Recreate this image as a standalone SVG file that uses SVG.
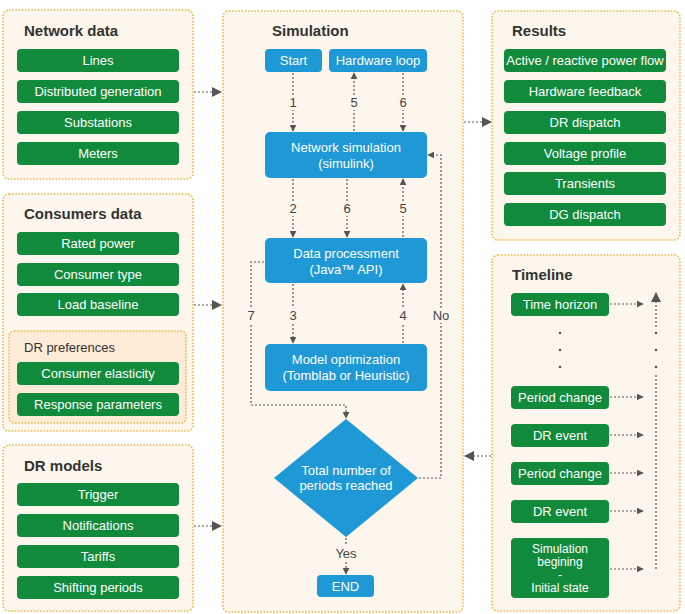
<svg xmlns="http://www.w3.org/2000/svg" width="685" height="614" viewBox="0 0 685 614">
<defs>
<marker id="ah" viewBox="0 0 10 10" refX="9" refY="5" markerWidth="7" markerHeight="7" markerUnits="userSpaceOnUse" orient="auto"><path d="M0,0 L10,5 L0,10 z" fill="#555"/></marker>
<marker id="ahL" viewBox="0 0 10 10" refX="9" refY="5" markerWidth="10" markerHeight="10" markerUnits="userSpaceOnUse" orient="auto"><path d="M0,0 L10,5 L0,10 z" fill="#555"/></marker>
<style>
.panel{fill:#fdf6ec;stroke:#f0b94a;stroke-width:1.6;stroke-dasharray:1.6 1.6}
.inner{fill:#fdebd8;stroke:#f0b94a;stroke-width:1.6;stroke-dasharray:1.6 1.6}
.g{fill:#118a3c}
.b{fill:#1f98d6}
.h{font-family:"Liberation Sans",Arial,sans-serif;font-weight:bold;font-size:15px;fill:#333}
.sh{font-family:"Liberation Sans",Arial,sans-serif;font-size:13px;fill:#333}
.t{font-family:"Liberation Sans",Arial,sans-serif;font-size:13px;fill:#fff;text-anchor:middle}
.ts{font-family:"Liberation Sans",Arial,sans-serif;font-size:12px;fill:#fff;text-anchor:middle}
.c{fill:none;stroke:#5a5a5a;stroke-width:1.2;stroke-dasharray:2 2}
.lbl{font-family:"Liberation Sans",Arial,sans-serif;font-size:13px;fill:#444;text-anchor:middle;paint-order:stroke;stroke:#fdf6ec;stroke-width:6px}
.dot{fill:#555}
</style>
</defs>
<rect width="685" height="614" fill="#ffffff"/>

<g id="network-data">
<rect class="panel" x="3" y="10" width="190" height="169" rx="6"/>
<text class="h" x="24" y="36">Network data</text>
<rect class="g" x="17" y="49" width="162" height="23" rx="4"/><text class="t" x="98" y="65">Lines</text>
<rect class="g" x="17" y="80" width="162" height="23" rx="4"/><text class="t" x="98" y="96">Distributed generation</text>
<rect class="g" x="17" y="111" width="162" height="23" rx="4"/><text class="t" x="98" y="127">Substations</text>
<rect class="g" x="17" y="142" width="162" height="23" rx="4"/><text class="t" x="98" y="158">Meters</text>
</g>

<g id="consumers-data">
<rect class="panel" x="3" y="194" width="190" height="237" rx="6"/>
<text class="h" x="24" y="219">Consumers data</text>
<rect class="g" x="17" y="232" width="162" height="23" rx="4"/><text class="t" x="98" y="248">Rated power</text>
<rect class="g" x="17" y="263" width="162" height="23" rx="4"/><text class="t" x="98" y="279">Consumer type</text>
<rect class="g" x="17" y="293" width="162" height="23" rx="4"/><text class="t" x="98" y="309">Load baseline</text>
<g id="dr-preferences">
<rect class="inner" x="9" y="331" width="177" height="92" rx="5"/>
<text class="sh" x="24" y="352">DR preferences</text>
<rect class="g" x="17" y="362" width="162" height="23" rx="4"/><text class="t" x="98" y="378">Consumer elasticity</text>
<rect class="g" x="17" y="393" width="162" height="23" rx="4"/><text class="t" x="98" y="409">Response parameters</text>
</g>
</g>

<g id="dr-models">
<rect class="panel" x="3" y="445" width="190" height="166" rx="6"/>
<text class="h" x="24" y="471">DR models</text>
<rect class="g" x="17" y="483" width="162" height="23" rx="4"/><text class="t" x="98" y="499">Trigger</text>
<rect class="g" x="17" y="514" width="162" height="23" rx="4"/><text class="t" x="98" y="530">Notifications</text>
<rect class="g" x="17" y="545" width="162" height="23" rx="4"/><text class="t" x="98" y="561">Tariffs</text>
<rect class="g" x="17" y="576" width="162" height="23" rx="4"/><text class="t" x="98" y="592">Shifting periods</text>
</g>

<g id="simulation">
<rect class="panel" x="223" y="11" width="240" height="601" rx="6"/>
<text class="h" x="272" y="36">Simulation</text>
</g>

<g id="results">
<rect class="panel" x="492" y="11" width="188" height="229" rx="6"/>
<text class="h" x="512" y="36">Results</text>
<rect class="g" x="504" y="49" width="162" height="23" rx="4"/><text class="t" x="585" y="65">Active / reactive power flow</text>
<rect class="g" x="504" y="80" width="162" height="23" rx="4"/><text class="t" x="585" y="96">Hardware feedback</text>
<rect class="g" x="504" y="111" width="162" height="23" rx="4"/><text class="t" x="585" y="127">DR dispatch</text>
<rect class="g" x="504" y="142" width="162" height="23" rx="4"/><text class="t" x="585" y="158">Voltage profile</text>
<rect class="g" x="504" y="172" width="162" height="23" rx="4"/><text class="t" x="585" y="188">Transients</text>
<rect class="g" x="504" y="203" width="162" height="23" rx="4"/><text class="t" x="585" y="219">DG dispatch</text>
</g>

<g id="timeline">
<rect class="panel" x="492" y="255" width="188" height="356" rx="6"/>
<text class="h" x="512" y="280">Timeline</text>
<rect class="g" x="511" y="293" width="98" height="23" rx="4"/><text class="t" x="560" y="309">Time horizon</text>
<circle class="dot" cx="560" cy="333" r="1.3"/><circle class="dot" cx="560" cy="350" r="1.3"/><circle class="dot" cx="560" cy="367" r="1.3"/>
<rect class="g" x="511" y="386" width="98" height="23" rx="4"/><text class="t" x="560" y="402">Period change</text>
<rect class="g" x="511" y="424" width="98" height="23" rx="4"/><text class="t" x="560" y="440">DR event</text>
<rect class="g" x="511" y="462" width="98" height="23" rx="4"/><text class="t" x="560" y="478">Period change</text>
<rect class="g" x="511" y="500" width="98" height="23" rx="4"/><text class="t" x="560" y="516">DR event</text>
<rect class="g" x="511" y="538" width="98" height="60" rx="4"/>
<text class="ts" x="560" y="553">Simulation</text>
<text class="ts" x="560" y="566">begining</text>
<text class="ts" x="560" y="579">-</text>
<text class="ts" x="560" y="592">Initial state</text>
<circle class="dot" cx="656" cy="333" r="1.3"/><circle class="dot" cx="656" cy="350" r="1.3"/><circle class="dot" cx="656" cy="367" r="1.3"/>
</g>

<g id="start"><rect class="b" x="265" y="49" width="57" height="23" rx="4"/><text class="t" x="293.5" y="65">Start</text></g>
<g id="hardware-loop"><rect class="b" x="329" y="49" width="98" height="23" rx="4"/><text class="t" x="378" y="65">Hardware loop</text></g>
<g id="network-simulation"><rect class="b" x="265" y="132" width="162" height="46" rx="5"/><text class="t" x="346" y="152">Network simulation</text><text class="t" x="346" y="168">(simulink)</text></g>
<g id="data-processment"><rect class="b" x="265" y="238" width="162" height="45" rx="5"/><text class="t" x="346" y="258">Data processment</text><text class="t" x="346" y="274">(Java™ API)</text></g>
<g id="model-optimization"><rect class="b" x="265" y="344" width="162" height="47" rx="5"/><text class="t" x="346" y="364">Model optimization</text><text class="t" x="346" y="380">(Tomblab or Heuristic)</text></g>
<g id="decision"><path class="b" d="M346,419 L418,478 L346,537 L274,478 z"/><text class="t" x="346" y="475">Total number of</text><text class="t" x="346" y="490">periods reached</text></g>
<g id="end"><rect class="b" x="317" y="575" width="57" height="22" rx="4"/><text class="t" x="345.5" y="591">END</text></g>

<g id="connectors">
<line class="c" x1="194" y1="92" x2="221" y2="92" marker-end="url(#ahL)"/>
<line class="c" x1="194" y1="305" x2="221" y2="305" marker-end="url(#ahL)"/>
<line class="c" x1="194" y1="526" x2="221" y2="526" marker-end="url(#ahL)"/>
<line class="c" x1="464" y1="122" x2="491" y2="122" marker-end="url(#ahL)"/>
<line class="c" x1="491" y1="456" x2="465" y2="456" marker-end="url(#ahL)"/>

<line class="c" x1="293" y1="73" x2="293" y2="131" marker-end="url(#ah)"/>
<line class="c" x1="354" y1="131" x2="354" y2="73" marker-end="url(#ah)"/>
<line class="c" x1="403" y1="73" x2="403" y2="131" marker-end="url(#ah)"/>
<text class="lbl" x="293" y="107">1</text>
<text class="lbl" x="354" y="107">5</text>
<text class="lbl" x="403" y="107">6</text>

<line class="c" x1="293" y1="179" x2="293" y2="237" marker-end="url(#ah)"/>
<line class="c" x1="347" y1="179" x2="347" y2="237" marker-end="url(#ah)"/>
<line class="c" x1="403" y1="237" x2="403" y2="179" marker-end="url(#ah)"/>
<text class="lbl" x="293" y="213">2</text>
<text class="lbl" x="347" y="213">6</text>
<text class="lbl" x="403" y="213">5</text>

<line class="c" x1="293" y1="284" x2="293" y2="343" marker-end="url(#ah)"/>
<line class="c" x1="403" y1="343" x2="403" y2="284" marker-end="url(#ah)"/>
<text class="lbl" x="293" y="320">3</text>
<text class="lbl" x="403" y="320">4</text>

<polyline class="c" points="264,262 251,262 251,405 346,405 346,418" marker-end="url(#ah)"/>
<text class="lbl" x="251" y="320">7</text>

<polyline class="c" points="419,478 441,478 441,155 428,155" marker-end="url(#ah)"/>
<text class="lbl" x="441" y="320">No</text>

<line class="c" x1="346" y1="538" x2="346" y2="574" marker-end="url(#ah)"/>
<text class="lbl" x="346" y="558">Yes</text>

<line class="c" x1="610" y1="304" x2="643" y2="304" marker-end="url(#ah)"/>
<line class="c" x1="610" y1="397" x2="643" y2="397" marker-end="url(#ah)"/>
<line class="c" x1="610" y1="435" x2="643" y2="435" marker-end="url(#ah)"/>
<line class="c" x1="610" y1="473" x2="643" y2="473" marker-end="url(#ah)"/>
<line class="c" x1="610" y1="511" x2="643" y2="511" marker-end="url(#ah)"/>
<line class="c" x1="610" y1="569" x2="643" y2="569" marker-end="url(#ah)"/>
<line class="c" x1="656" y1="327" x2="656" y2="293" marker-end="url(#ahL)"/>
<line class="c" x1="656" y1="375" x2="656" y2="570"/>
</g>
</svg>
